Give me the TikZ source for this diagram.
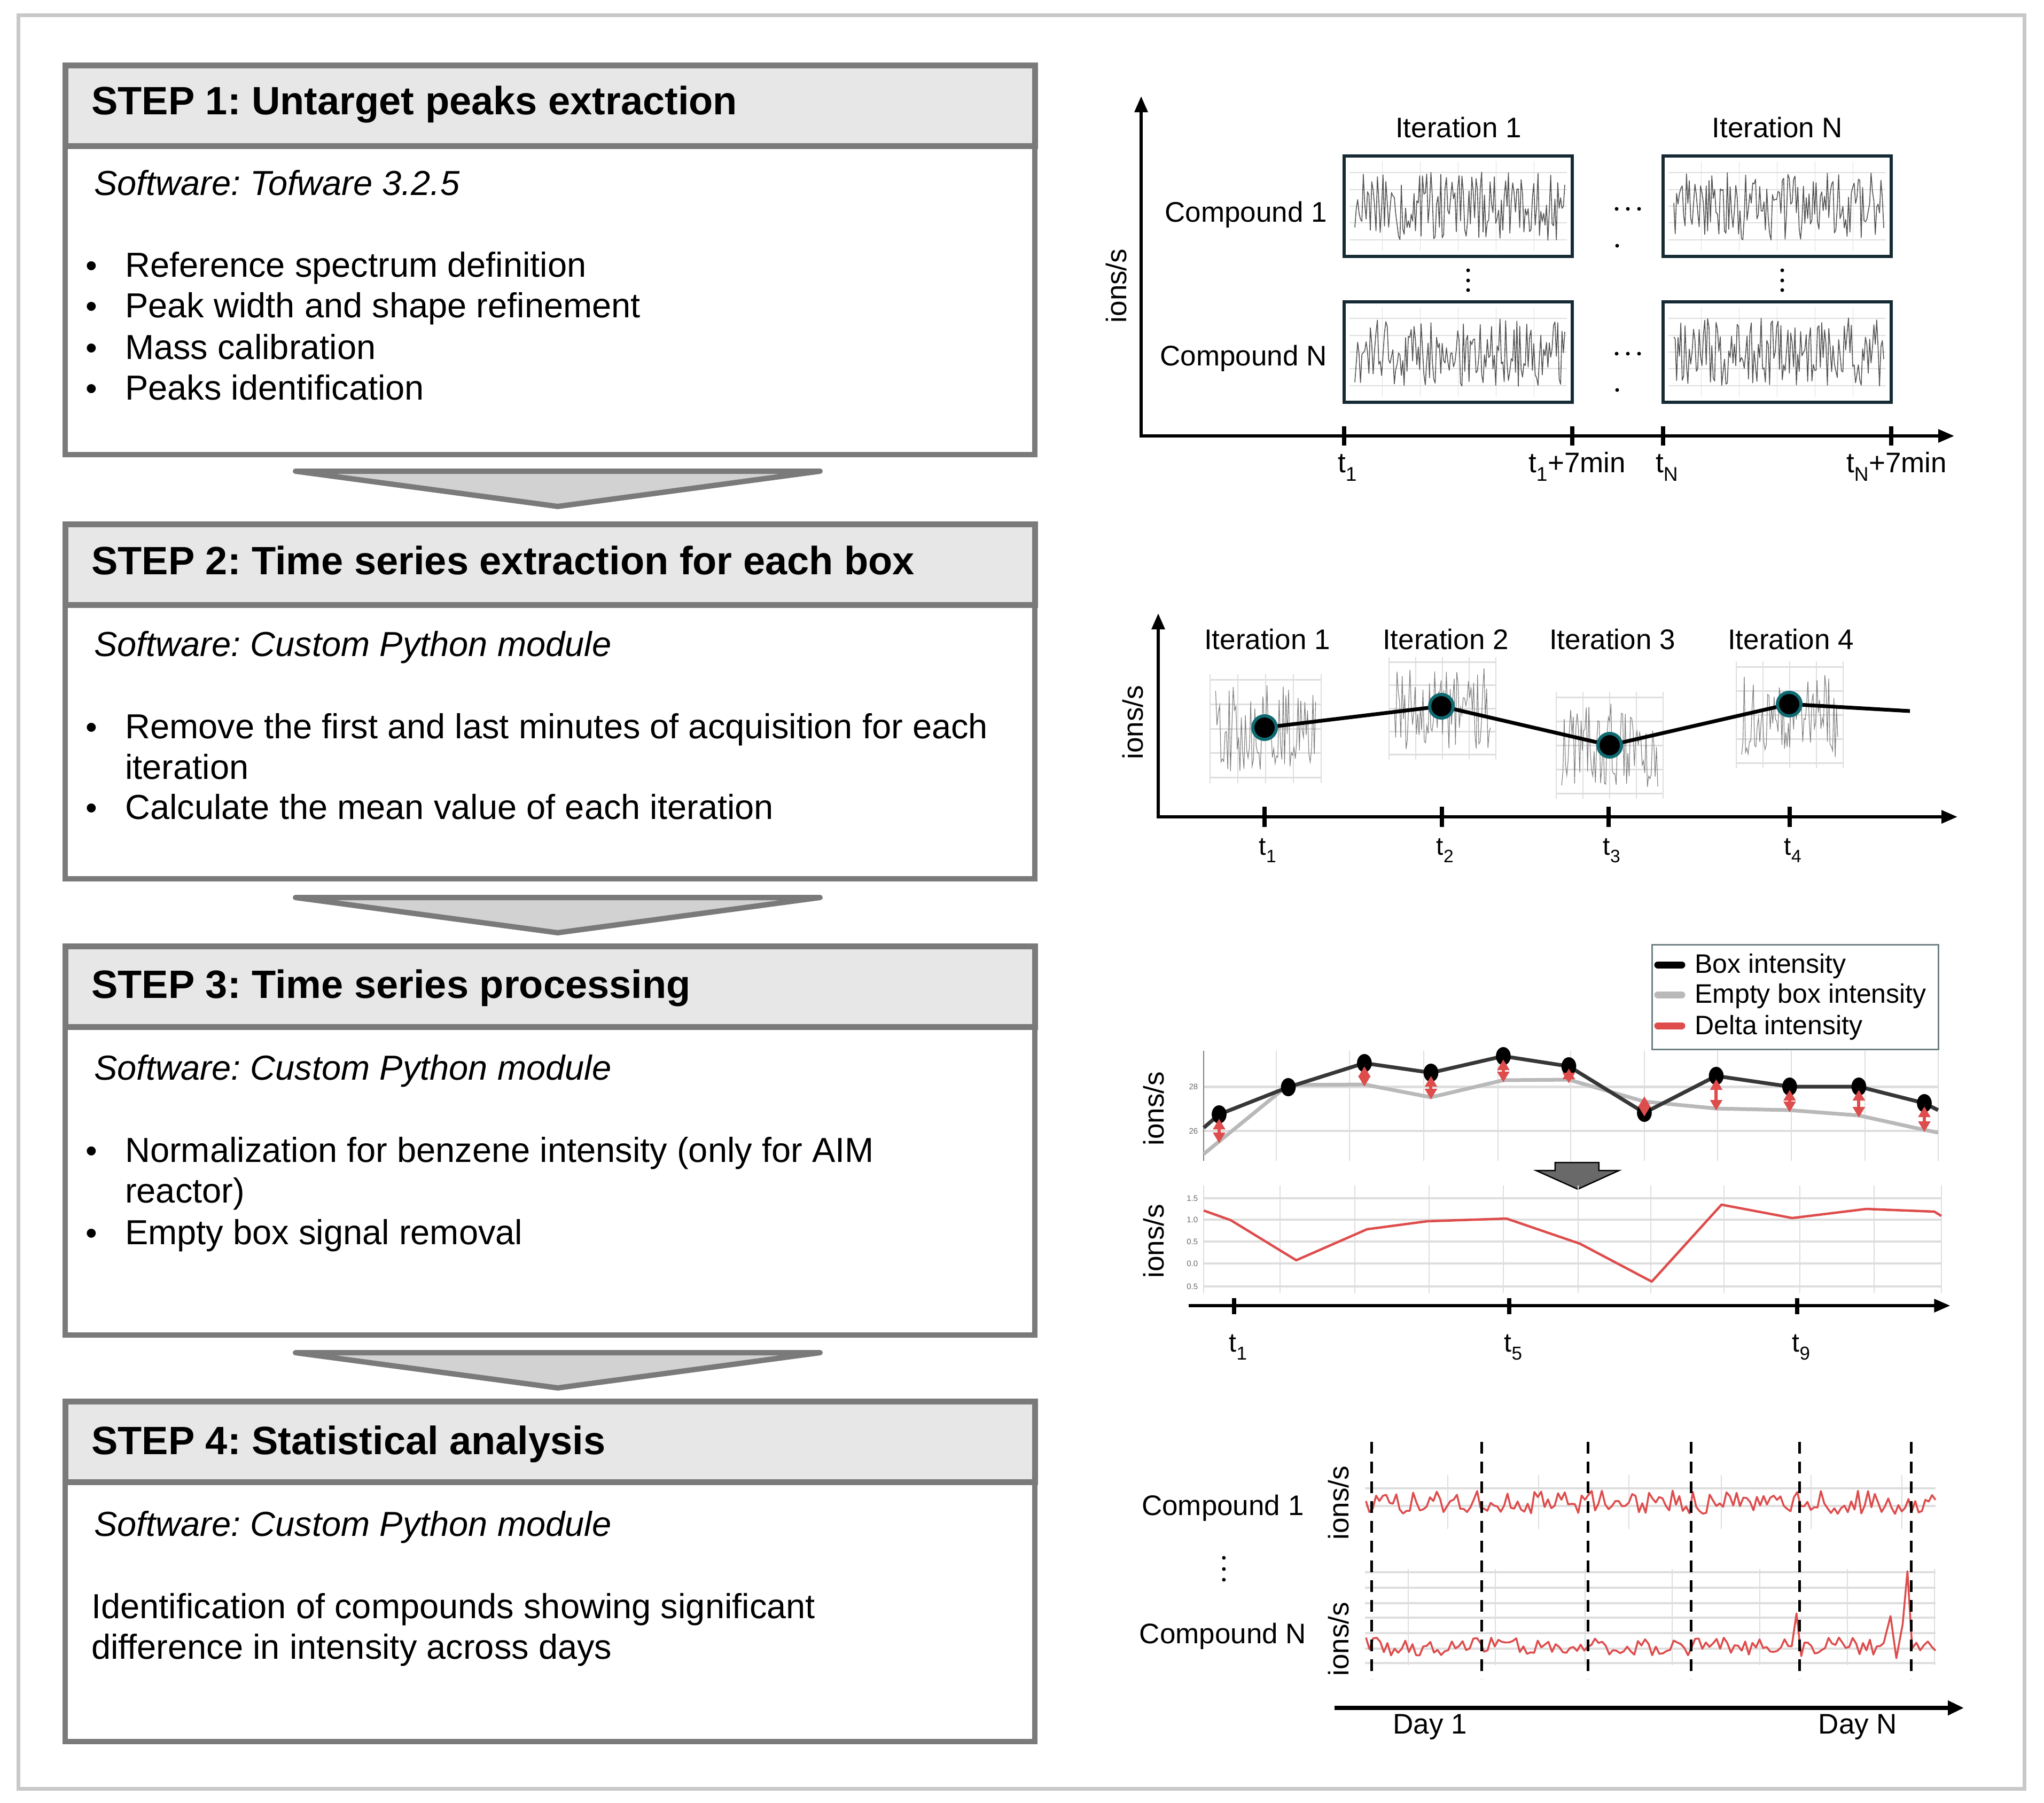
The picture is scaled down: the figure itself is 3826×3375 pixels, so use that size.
\documentclass[tikz,border=0pt]{standalone}
\usepackage{fontspec}
\setmainfont{Liberation Sans}
\usetikzlibrary{arrows.meta}
\frenchspacing
\definecolor{boxgray}{RGB}{122,122,122}
\definecolor{headfill}{RGB}{231,231,231}
\definecolor{arrfill}{RGB}{210,210,210}
\definecolor{framegray}{RGB}{200,200,200}
\definecolor{navy}{RGB}{22,42,52}
\definecolor{gridc}{RGB}{222,222,222}
\definecolor{noisec}{RGB}{85,85,85}
\definecolor{redl}{RGB}{222,76,76}
\definecolor{emptyc}{RGB}{185,185,185}
\definecolor{boxc}{RGB}{55,55,55}
\definecolor{legc}{RGB}{110,128,132}
\definecolor{darkarr}{RGB}{105,105,105}
\newcommand\hdfont{\fontsize{74}{88}\selectfont\bfseries}
\newcommand\bdfont{\fontsize{65}{76}\selectfont}
\newcommand\pfont{\fontsize{53}{62}\selectfont}
\newcommand\sfont{\fontsize{48}{56}\selectfont}
\newcommand\lgfont{\fontsize{50}{58}\selectfont}
\newcommand\tnfont{\fontsize{15}{18}\selectfont}
\tikzset{
  bdbox/.style={draw=boxgray, line width=10pt, fill=white, inner sep=0pt, outer sep=0pt, anchor=north west, minimum width=1815pt},
  hdbox/.style={draw=boxgray, line width=11pt, fill=headfill, inner sep=0pt, outer sep=0pt, anchor=north west, minimum width=1815pt, minimum height=151pt},
  chev/.style={draw=boxgray, line width=10pt, fill=arrfill, line join=round, line cap=round},
  hdtxt/.style={anchor=base west, inner sep=0pt, font=\hdfont},
  bdtxt/.style={anchor=base west, inner sep=0pt, font=\bdfont},
  ittxt/.style={anchor=base west, inner sep=0pt, font=\bdfont\itshape},
  bul/.style={anchor=base west, inner sep=0pt, font=\fontsize{62}{62}\selectfont},
  ptxt/.style={anchor=base, inner sep=0pt, font=\pfont},
  rottxt/.style={inner sep=0pt, font=\pfont, rotate=90},
  axisarr/.style={line width=6pt, -{Triangle[length=30pt,width=24pt]}},
  tickmark/.style={line width=8pt},
  gridl/.style={gridc, line width=2pt},
  delta/.style={redl, line width=6pt, {Triangle[length=20pt,width=22pt]}-{Triangle[length=20pt,width=22pt]}},
  dayline/.style={black, line width=5pt, dash pattern=on 22pt off 15pt},
  meandot/.style={fill=black, draw=navy!70!cyan, line width=6pt},
}
\newcommand\noisebox[4]{%
  \foreach \k in {1,...,5} {\draw[gridl] (#1+10, {#2+\k*(#4-#2)/6}) -- (#3-10, {#2+\k*(#4-#2)/6});}
  \foreach \k in {1,...,5} {\draw[gridc, line width=1.2pt] ({#1+\k*(#3-#1)/6}, #2+10) -- ({#1+\k*(#3-#1)/6}, #4-10);}
  \draw[noisec, line width=1.6pt, line join=round] plot[domain=#1+20:#3-14, samples=150] (\x, {(#2+#4)/2 + 0.34*(#4-#2)*rand});
  \draw[navy, line width=6pt] (#1,#2) rectangle (#3,#4);
}
\newcommand\cluster[4]{%
  \foreach \k in {-2,...,2} {\draw[gridc, line width=3pt] (#1-#3, {#2+\k*#4*0.45}) -- (#1+#3, {#2+\k*#4*0.45});}
  \foreach \k in {-2,...,2} {\draw[gridc, line width=1.2pt] ({#1+\k*#3*0.5}, #2-#4) -- ({#1+\k*#3*0.5}, #2+#4);}
  \draw[noisec!75, line width=1.2pt] plot[domain=#1-#3*0.9:#1+#3*0.9, samples=75] (\x, {#2 + #4*0.8*rand});
}
\begin{document}
\begin{tikzpicture}[x=1pt,y=-1pt]
\useasboundingbox (0,0) rectangle (3826,3375);
\pgfmathsetseed{4242}
\draw[framegray, line width=7pt] (34,29) rectangle (3789,3348);

% ---------------- STEP 1
\node[bdbox, minimum height=729pt] (b1) at (122,122) {};
\node[hdbox] (h1) at (122,122) {};
\node[hdtxt] (h1t) at (171,214) {STEP 1: Untarget peaks extraction};
\node[ittxt] (s1) at (176,365) {Software: Tofware 3.2.5};
\node[bul] (u11) at (160,518) {\textbullet};
\node[bdtxt] (i11) at (234,518) {Reference spectrum definition};
\node[bul] (u12) at (160,594) {\textbullet};
\node[bdtxt] (i12) at (234,594) {Peak width and shape refinement};
\node[bul] (u13) at (160,672) {\textbullet};
\node[bdtxt] (i13) at (234,672) {Mass calibration};
\node[bul] (u14) at (160,748) {\textbullet};
\node[bdtxt] (i14) at (234,748) {Peaks identification};

\draw[chev] (553,882) -- (1535,882) -- (1044,948) -- cycle;

% ---------------- STEP 2
\node[bdbox, minimum height=664pt] (b2) at (122,981) {};
\node[hdbox] (h2) at (122,981) {};
\node[hdtxt] (h2t) at (171,1075) {STEP 2: Time series extraction for each box};
\node[ittxt] (s2) at (176,1228) {Software: Custom Python module};
\node[bul] (u21) at (160,1382) {\textbullet};
\node[bdtxt] (i21) at (234,1382) {Remove the first and last minutes of acquisition for each};
\node[bdtxt] (i21b) at (234,1458) {iteration};
\node[bul] (u22) at (160,1533) {\textbullet};
\node[bdtxt] (i22) at (234,1533) {Calculate the mean value of each iteration};

\draw[chev] (553,1680) -- (1535,1680) -- (1044,1746) -- cycle;

% ---------------- STEP 3
\node[bdbox, minimum height=728pt] (b3) at (122,1771) {};
\node[hdbox] (h3) at (122,1771) {};
\node[hdtxt] (h3t) at (171,1868) {STEP 3: Time series processing};
\node[ittxt] (s3) at (176,2021) {Software: Custom Python module};
\node[bul] (u31) at (160,2175) {\textbullet};
\node[bdtxt] (i31) at (234,2175) {Normalization for benzene intensity (only for AIM};
\node[bdtxt] (i31b) at (234,2251) {reactor)};
\node[bul] (u32) at (160,2329) {\textbullet};
\node[bdtxt] (i32) at (234,2329) {Empty box signal removal};

\draw[chev] (553,2532) -- (1535,2532) -- (1044,2598) -- cycle;

% ---------------- STEP 4
\node[bdbox, minimum height=637pt] (b4) at (122,2623) {};
\node[hdbox] (h4) at (122,2623) {};
\node[hdtxt] (h4t) at (171,2722) {STEP 4: Statistical analysis};
\node[ittxt] (s4) at (176,2875) {Software: Custom Python module};
\node[bdtxt] (i41) at (171,3029) {Identification of compounds showing significant};
\node[bdtxt] (i41b) at (171,3105) {difference in intensity across days};

% ================= PANEL 1
\noisebox{2516}{292}{2943}{480}
\noisebox{3113}{292}{3540}{480}
\noisebox{2516}{565}{2943}{753}
\noisebox{3113}{565}{3540}{753}
\draw[axisarr] (2136,816) -- (2136,180);
\draw[axisarr] (2133,816) -- (3658,816);
\foreach \xx in {2516,2943,3113,3540} {\draw[tickmark] (\xx,798) -- (\xx,834);}
\node[ptxt] (p1t1) at (2522,884) {t\textsubscript{1}};
\node[ptxt] (p1t2) at (2952,884) {t\textsubscript{1}+7min};
\node[ptxt] (p1t3) at (3120,884) {t\textsubscript{N}};
\node[ptxt] (p1t4) at (3550,884) {t\textsubscript{N}+7min};
\node[rottxt] (p1y) at (2090,535) {ions/s};
\node[ptxt] (p1i1) at (2730,257) {Iteration 1};
\node[ptxt] (p1iN) at (3327,257) {Iteration N};
\node[ptxt, anchor=base east] (p1c1) at (2484,415) {Compound 1};
\node[ptxt, anchor=base east] (p1cN) at (2484,684) {Compound N};
\foreach \xx in {3026,3047,3068} {\fill (\xx,391) circle (3.5); \fill (\xx,662) circle (3.5);}
\fill (3027,460) circle (3.5); \fill (3027,730) circle (3.5);
\foreach \yy in {506,525,543} {\fill (2748,\yy) circle (3.5); \fill (3336,\yy) circle (3.5);}

% ================= PANEL 2
\cluster{2369}{1364}{104}{102}
\cluster{2700}{1326}{100}{96}
\cluster{3013}{1395}{100}{100}
\cluster{3350}{1338}{100}{100}
\draw[axisarr] (2168,1529) -- (2168,1148);
\draw[axisarr] (2165,1529) -- (3664,1529);
\foreach \xx in {2367,2699,3011,3350} {\draw[tickmark] (\xx,1510) -- (\xx,1548);}
\node[ptxt, font=\sfont] (p2t1) at (2373,1600) {t\textsubscript{1}};
\node[ptxt, font=\sfont] (p2t2) at (2705,1600) {t\textsubscript{2}};
\node[ptxt, font=\sfont] (p2t3) at (3017,1600) {t\textsubscript{3}};
\node[ptxt, font=\sfont] (p2t4) at (3356,1600) {t\textsubscript{4}};
\node[rottxt] (p2y) at (2121,1352) {ions/s};
\node[ptxt] (p2i1) at (2372,1215) {Iteration 1};
\node[ptxt] (p2i2) at (2706,1215) {Iteration 2};
\node[ptxt] (p2i3) at (3018,1215) {Iteration 3};
\node[ptxt] (p2i4) at (3352,1215) {Iteration 4};
\draw[black, line width=7pt, line join=round] (2367,1362) -- (2698,1322) -- (3013,1395) -- (3349,1318) -- (3575,1331);
\foreach \xx/\yy in {2367/1362, 2698/1322, 3013/1395, 3349/1318} {\draw[meandot] (\xx,\yy) circle (22);}

% ================= PANEL 3 legend
\node[draw=legc, line width=3pt, fill=white, minimum width=536pt, minimum height=196pt, anchor=north west, inner sep=0pt, outer sep=0pt] (leg) at (3092,1768) {};
\draw[black, line width=13pt, line cap=round] (3103,1806) -- (3148,1806);
\draw[emptyc, line width=13pt, line cap=round] (3103,1862) -- (3148,1862);
\draw[redl, line width=13pt, line cap=round] (3103,1920) -- (3148,1920);
\node[ptxt, font=\lgfont, anchor=base west] (l1) at (3172,1821) {Box intensity};
\node[ptxt, font=\lgfont, anchor=base west] (l2) at (3172,1877) {Empty box intensity};
\node[ptxt, font=\lgfont, anchor=base west] (l3) at (3172,1936) {Delta intensity};

\begin{scope}[shift={(2100,0)}, xscale=0.9888, shift={(-2100,0)}]
\foreach \xx in {2392,2531,2671,2812,2949,3089,3228,3367,3507,3645} {\draw[gridc, line width=2pt] (\xx,1967) -- (\xx,2173);}
\draw[gridc, line width=5pt] (2255,2034) -- (3645,2034);
\draw[gridc, line width=4pt] (2255,2117) -- (3645,2117);
\draw[gray, line width=2pt] (2255,1967) -- (2255,2173);
\node[inner sep=0pt, font=\tnfont, anchor=east, text=darkarr] (y28) at (2244,2034) {28};
\node[inner sep=0pt, font=\tnfont, anchor=east, text=darkarr] (y26) at (2244,2117) {26};
\draw[emptyc, line width=7pt, line join=round] (2255,2160) -- (2415,2031) -- (2559,2030) -- (2685,2054) -- (2822,2022) -- (2946,2021) -- (3089,2062) -- (3225,2075) -- (3364,2078) -- (3495,2088) -- (3619,2115) -- (3645,2120);
\draw[boxc, line width=7pt, line join=round] (2255,2111) -- (2284,2086) -- (2415,2035) -- (2559,1990) -- (2685,2008) -- (2822,1977) -- (2946,1996) -- (3089,2083) -- (3225,2014) -- (3364,2034) -- (3495,2034) -- (3619,2065) -- (3645,2078);
\foreach \xx/\yy in {2284/2086, 2415/2035, 2559/1990, 2685/2008, 2822/1977, 2946/1996, 3089/2083, 3225/2014, 3364/2034, 3495/2034, 3619/2065} {\fill[black] (\xx,\yy) ellipse (14 and 17);}
\foreach \xx/\ya/\yb in {2284/2094/2140, 2559/1996/2034, 2685/2014/2058, 2822/1983/2026, 2946/2000/2028, 3089/2052/2090, 3225/2020/2079, 3364/2040/2082, 3495/2040/2092, 3619/2071/2119} {\draw[delta] (\xx,\ya) -- (\xx,\yb);}

\draw[fill=darkarr, draw=black, line width=2.5pt, line join=miter] (2920,2176) -- (3003,2176) -- (3003,2191) -- (3041,2191) -- (2963,2226) -- (2884,2191) -- (2920,2191) -- cycle;

\foreach \xx in {2255,2399,2541,2681,2822,2964,3101,3240,3383,3524,3651} {\draw[gridc, line width=2pt] (\xx,2219) -- (\xx,2420);}
\foreach \yy in {2243,2283,2324,2365,2408} {\draw[gridc, line width=4pt] (2255,\yy) -- (3651,\yy);}
\foreach \yy/\lab in {2243/1.5, 2283/1.0, 2324/0.5, 2365/0.0, 2408/0.5} {\node[inner sep=0pt, font=\tnfont, anchor=east, text=darkarr] at (2244,\yy) {\lab};}
\draw[redl, line width=4.5pt, line join=round] (2255,2266) -- (2306,2284) -- (2430,2359) -- (2564,2301) -- (2678,2286) -- (2828,2281) -- (2967,2328) -- (3103,2399) -- (3235,2255) -- (3369,2280) -- (3509,2263) -- (3638,2268) -- (3651,2276);
\node[rottxt] (p3y1) at (2160,2075) {ions/s};
\node[rottxt] (p3y2) at (2160,2323) {ions/s};
\draw[axisarr] (2226,2444) -- (3668,2444);
\foreach \xx in {2312,2833,3378} {\draw[tickmark] (\xx,2430) -- (\xx,2460);}
\node[ptxt, font=\lgfont] (p3t1) at (2320,2530) {t\textsubscript{1}};
\node[ptxt, font=\lgfont] (p3t5) at (2841,2530) {t\textsubscript{5}};
\node[ptxt, font=\lgfont] (p3t9) at (3386,2530) {t\textsubscript{9}};
\end{scope}

% ================= PANEL 4
\begin{scope}[shift={(2100,0)}, xscale=0.9888, shift={(-2100,0)}]
\foreach \yy in {2786,2819} {\draw[gridc, line width=4pt] (2560,\yy) -- (3640,\yy);}
\foreach \xx in {2717,2889,3060,3235,3405,3576} {\draw[gridc, line width=2pt] (\xx,2761) -- (\xx,2862);}
\foreach \yy in {2943,2972,3001,3028,3057,3086,3113} {\draw[gridc, line width=4pt] (2560,\yy) -- (3640,\yy);}
\foreach \xx in {2642,2807,2977,3142,3307,3473,3638} {\draw[gridc, line width=2pt] (\xx,2937) -- (\xx,3117);}
\draw[redl, line width=3.5pt, line join=round] plot[domain=2562:3640, samples=170] (\x, {2812 + 22*rand});
\draw[redl, line width=3.5pt, line join=round] plot[domain=2562:3368, samples=120] (\x, {3082 + 17*rand}) -- (3377,3020) -- (3386,3100) -- plot[domain=3392:3542, samples=24] (\x, {3082 + 17*rand}) -- (3555,3025) -- (3566,3104) -- (3578,3040) -- (3587,2941) -- (3596,3085) -- plot[domain=3604:3640, samples=6] (\x, {3080 + 14*rand});
\foreach \xx in {2573,2781,2982,3178,3383,3594} {\draw[dayline] (\xx,2699) -- (\xx,3143);}
\node[ptxt] (p4c1) at (2291,2836) {Compound 1};
\node[ptxt] (p4cN) at (2291,3076) {Compound N};
\foreach \yy in {2916,2937,2957} {\fill (2293,\yy) circle (3.5);}
\node[rottxt] (p4y1) at (2510,2813) {ions/s};
\node[rottxt] (p4y2) at (2510,3068) {ions/s};
\draw[line width=8pt, -{Triangle[length=30pt,width=26pt]}] (2502,3197) -- (3694,3197);
\node[ptxt] (d1) at (2683,3245) {Day 1};
\node[ptxt] (dN) at (3493,3245) {Day N};
\end{scope}
\end{tikzpicture}
\end{document}
